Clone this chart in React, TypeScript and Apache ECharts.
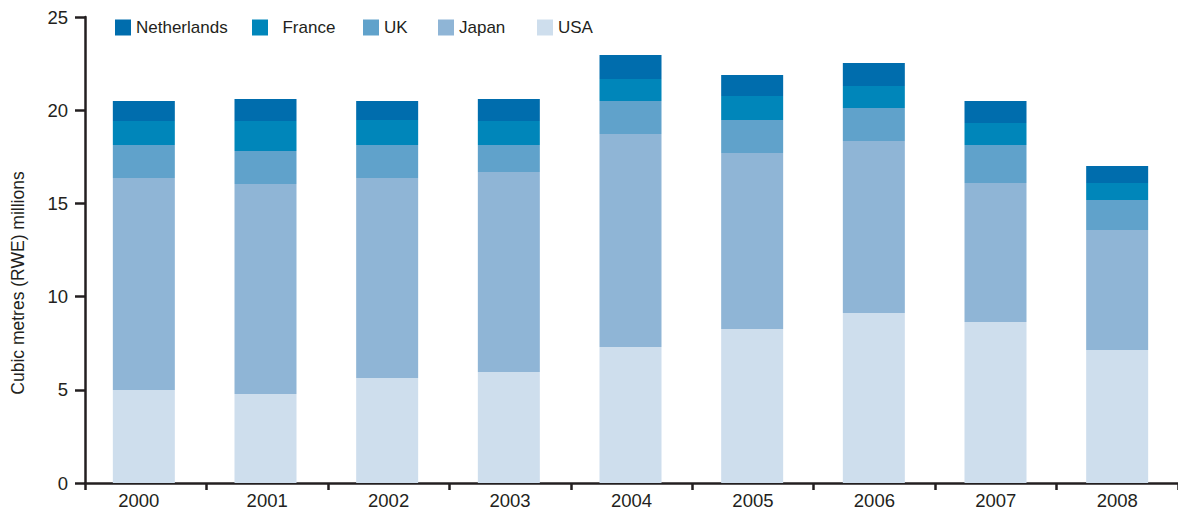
import React, { useEffect, useRef } from "react";
import * as echarts from "echarts";

const years = ["2000", "2001", "2002", "2003", "2004", "2005", "2006", "2007", "2008"];
const usa = [4.99, 4.77, 5.63, 5.95, 7.3, 8.26, 9.12, 8.64, 7.14];
const japan = [11.37, 11.27, 10.73, 10.73, 11.42, 9.44, 9.23, 7.45, 6.43];
const uk = [1.77, 1.77, 1.77, 1.45, 1.77, 1.77, 1.77, 2.04, 1.61];
const france = [1.29, 1.61, 1.34, 1.29, 1.18, 1.29, 1.18, 1.18, 0.91];
const netherlands = [1.07, 1.18, 1.02, 1.18, 1.29, 1.13, 1.23, 1.18, 0.91];

const seriesDefs = [
  { name: "USA", data: usa, color: "#cedeed" },
  { name: "Japan", data: japan, color: "#8fb5d6" },
  { name: "UK", data: uk, color: "#60a2cb" },
  { name: "France", data: france, color: "#0086ba" },
  { name: "Netherlands", data: netherlands, color: "#006dad" },
];

const legendDefs = [
  { name: "Netherlands", left: 115, label: "Netherlands" },
  { name: "France", left: 252, label: "  France" },
  { name: "UK", left: 363, label: "UK" },
  { name: "Japan", left: 438, label: "Japan" },
  { name: "USA", left: 537, label: "USA" },
];

const FONT = "'Liberation Sans', Arial, Helvetica, sans-serif";
const TEXT = "#231f20";

export default function App() {
  const ref = useRef<HTMLDivElement>(null);
  useEffect(() => {
    if (!ref.current) return;
    const chart = echarts.init(ref.current, null, { renderer: "svg" });
    const axisData = years.map((y, i) =>
      i === 0 ? { value: y, textStyle: { padding: [0, 14, 0, 0] } } : y
    );
    chart.setOption({
      animation: false,
      backgroundColor: "#ffffff",
      textStyle: { fontFamily: FONT, color: TEXT },
      grid: [
        { left: 85, width: 1100, top: 17, bottom: 28, containLabel: false },
        { left: 83, width: 1100, top: 17, bottom: 28, containLabel: false },
      ],
      legend: legendDefs.map((l) => ({
        data: [{ name: l.name, icon: "rect" }],
        left: l.left,
        top: 19,
        itemWidth: 16,
        itemHeight: 16,
        itemGap: 0,
        padding: 0,
        selectedMode: false,
        formatter: () => l.label,
        textStyle: { fontSize: 17, color: TEXT, fontFamily: FONT },
      })),
      xAxis: [
        {
          type: "category",
          gridIndex: 0,
          data: axisData,
          axisLine: { show: true, lineStyle: { color: TEXT, width: 2.5 } },
          axisTick: { show: true, alignWithLabel: false, length: 7, lineStyle: { color: TEXT, width: 2.5 } },
          axisLabel: { color: TEXT, fontSize: 18.5, margin: 8, fontFamily: FONT },
          splitLine: { show: false },
        },
        {
          type: "category",
          gridIndex: 1,
          data: years,
          show: false,
        },
      ],
      yAxis: [
        {
          type: "value",
          gridIndex: 0,
          min: 0,
          max: 25,
          interval: 5,
          axisLine: { show: true, lineStyle: { color: TEXT, width: 2.5 } },
          axisTick: { show: true, length: 10, lineStyle: { color: TEXT, width: 2.5 } },
          axisLabel: { color: TEXT, fontSize: 18.5, margin: 17, fontFamily: FONT },
          splitLine: { show: false },
        },
        {
          type: "value",
          gridIndex: 1,
          min: 0,
          max: 25,
          interval: 5,
          show: false,
          splitLine: { show: false },
        },
      ],
      graphic: [
        {
          type: "text",
          x: 18,
          y: 283,
          rotation: Math.PI / 2,
          style: {
            text: "Cubic metres (RWE) millions",
            fontSize: 17.5,
            fontFamily: FONT,
            fill: TEXT,
            align: "center",
            verticalAlign: "middle",
          },
        },
      ],
      series: seriesDefs.map((s) => ({
        name: s.name,
        type: "bar",
        stack: "total",
        xAxisIndex: 1,
        yAxisIndex: 1,
        data: s.data,
        barWidth: 62,
        itemStyle: { color: s.color },
        emphasis: { disabled: true },
        z: 1,
      })),
    });
    return () => chart.dispose();
  }, []);
  return (
    <div
      ref={ref}
      style={{ position: "fixed", left: 0, top: 0, width: 1178, height: 511 }}
    />
  );
}
